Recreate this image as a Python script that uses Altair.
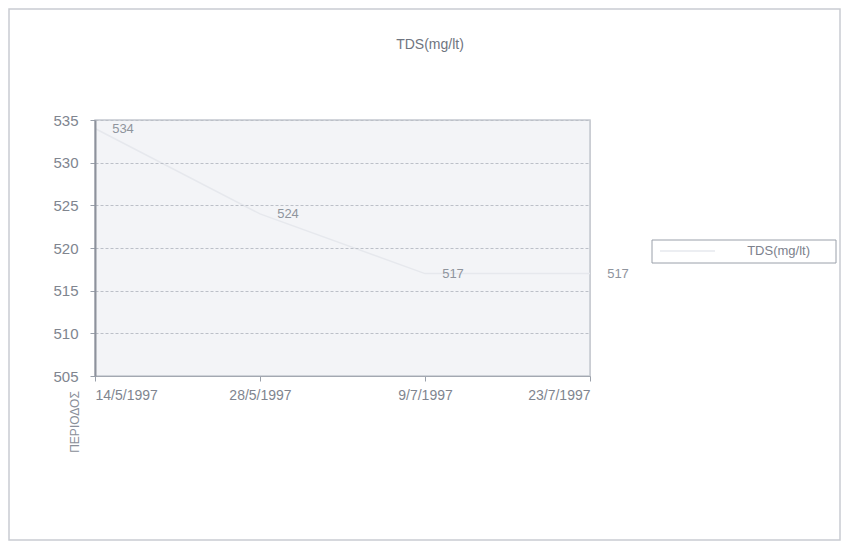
import altair as alt
import pandas as pd

dates = ["14/5/1997", "28/5/1997", "9/7/1997", "23/7/1997"]
tds = [534, 524, 517, 517]
y_ticks = [505, 510, 515, 520, 525, 530, 535]
title_text = "TDS(mg/lt)"
series_name = "TDS(mg/lt)"
x_title = "ΠΕΡΙΟΔΟΣ"

df = pd.DataFrame({"date": dates, "tds": tds})
one = pd.DataFrame({"k": [0]})

W, H = 495, 256
TXT = "#80858f"
FONT = "Liberation Sans"

x_enc = alt.X("date:O", sort=dates, scale=alt.Scale(type="point", padding=0),
              axis=alt.Axis(title=None, labelAngle=0, labelFlush=True, labelFontSize=14,
                            labelColor=TXT, labelFont=FONT, labelPadding=7,
                            domainColor="#a3a8b1", tickColor="#9aa0aa", grid=False, zindex=1))
y_enc = alt.Y("tds:Q", scale=alt.Scale(domain=[505, 535], nice=False, zero=False),
              axis=alt.Axis(title=None, values=y_ticks, labelFontSize=15, labelColor=TXT,
                            labelFont=FONT, labelPadding=12, domainColor="#8d929c",
                            domainWidth=2, tickColor="#9aa0aa", tickSize=5,
                            gridColor="#bcc0c8", gridDash=[3, 2], gridWidth=1, zindex=1))

bg = alt.Chart(one).mark_rect(fill="#f3f4f7", stroke="#c4c8cf", strokeWidth=1.5).encode(
    x=alt.value(0), x2=alt.value(W), y=alt.value(0), y2=alt.value(H))

line = alt.Chart(df).mark_line(color="#e6e8ed", strokeWidth=1.5).encode(x=x_enc, y=y_enc)

labels = alt.Chart(df).mark_text(dx=28, fontSize=13, color="#8f949d", font=FONT).encode(
    x=alt.X("date:O", sort=dates), y="tds:Q", text="tds:Q")

border = alt.Chart(one).mark_rect(fill=None, stroke="#c9ccd2", strokeWidth=1.5).encode(
    x=alt.value(-86), x2=alt.value(745), y=alt.value(-111), y2=alt.value(420))

title = alt.Chart(one).mark_text(fontSize=14, color="#6f7580", font=FONT).encode(
    x=alt.value(335), y=alt.value(-75), text=alt.value(title_text))

legend_box = alt.Chart(one).mark_rect(fill="white", stroke="#9aa0aa", strokeWidth=1).encode(
    x=alt.value(557), x2=alt.value(741), y=alt.value(120), y2=alt.value(143))
legend_line = alt.Chart(one).mark_rule(color="#eceef2", strokeWidth=2).encode(
    x=alt.value(565), x2=alt.value(620), y=alt.value(131))
legend_text = alt.Chart(one).mark_text(fontSize=13, color="#7c818c", font=FONT, align="right").encode(
    x=alt.value(715), y=alt.value(131), text=alt.value(series_name))

xtitle = alt.Chart(one).mark_text(fontSize=12, color="#8a8f99", font=FONT, angle=270).encode(
    x=alt.value(-20), y=alt.value(302), text=alt.value(x_title))

chart = alt.layer(border, bg, line, labels, title, legend_box, legend_line, legend_text, xtitle).properties(
    width=W, height=H,
    autosize=alt.AutoSizeParams(type="none"),
    padding={"left": 87, "top": 112, "right": 251, "bottom": 165},
).configure_view(stroke=None).configure(background="white")

chart.save("out.html", embed_options={"renderer": "svg", "actions": False})
